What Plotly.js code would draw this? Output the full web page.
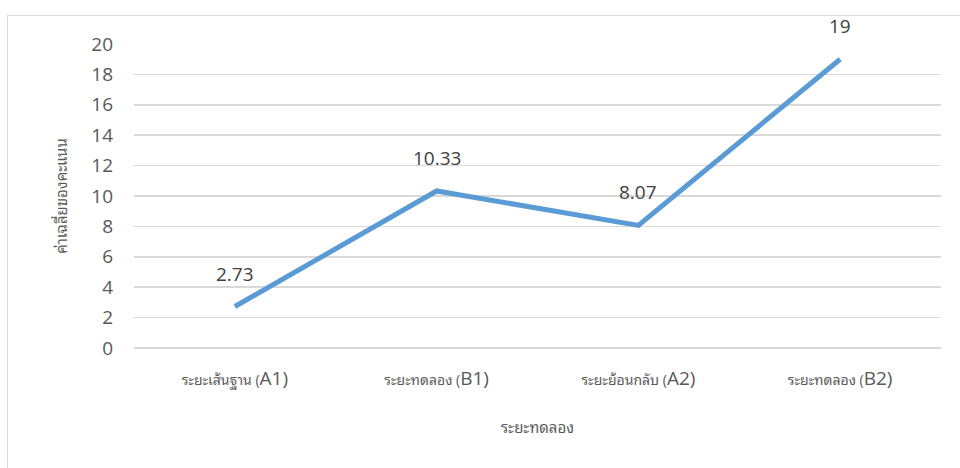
<!DOCTYPE html>
<html><head><meta charset="utf-8">
<script src="https://cdn.plot.ly/plotly-3.0.1.min.js"></script>
<style>
html,body{margin:0;padding:0;background:#fff;}
#wrap{position:relative;width:960px;height:468px;overflow:hidden;}
#chart{width:960px;height:468px;}
#frame{position:absolute;left:7px;top:15px;width:980px;height:500px;border:1.5px solid #d9d9d9;pointer-events:none;}
</style></head>
<body><div id="wrap"><div id="chart"></div><div id="frame"></div></div>
<script>
const categoryThai = ["ระยะเส้นฐาน", "ระยะทดลอง", "ระยะย้อนกลับ", "ระยะทดลอง"];
const categoryCode = ["A1", "B1", "A2", "B2"];
const categories = categoryThai.map((t, i) => t + " (" + categoryCode[i] + ")");
const values = [2.73, 10.33, 8.07, 19];
const labels = ["2.73", "10.33", "8.07", "19"];
const yTicks = [0, 2, 4, 6, 8, 10, 12, 14, 16, 18, 20];
const fontFam = "'Open Sans', 'Noto Sans', 'Noto Sans Thai Looped', 'Noto Sans Thai', sans-serif";

const tickText = categoryThai.map((t, i) => t + ' (<span style="font-size:19px">' + categoryCode[i] + ')</span>');

Plotly.newPlot('chart', [{
  type: 'scatter', mode: 'lines',
  x: categories, y: values,
  line: {color: '#5B9BD5', width: 5},
  cliponaxis: false, hoverinfo: 'none'
}], {
  width: 960, height: 468,
  margin: {l: 134, r: 19, t: 44, b: 120},
  paper_bgcolor: 'rgba(0,0,0,0)', plot_bgcolor: '#fff',
  showlegend: false,
  font: {family: fontFam, color: '#595959'},
  annotations: categories.map((c, i) => ({
    x: c, y: values[i], xref: 'x', yref: 'y', text: labels[i],
    showarrow: false, yshift: 33, font: {family: fontFam, size: 19, color: '#404040'}
  })),
  xaxis: {
    type: 'category', range: [-0.5, 3.5],
    categoryarray: categories, tickvals: categories, ticktext: tickText,
    showgrid: false, zeroline: false, showline: false, ticks: '',
    ticklabelstandoff: 22,
    tickfont: {size: 14, color: '#595959'},
    title: {text: 'ระยะทดลอง', font: {size: 15, color: '#595959'}, standoff: 32}
  },
  yaxis: {
    range: [0, 20], tickvals: yTicks, ticktext: yTicks.map(String),
    showgrid: true, gridcolor: '#d9d9d9', gridwidth: 1.5,
    zeroline: true, zerolinecolor: '#d9d9d9', zerolinewidth: 1.5,
    showline: false, ticks: '',
    ticklabelstandoff: 20,
    tickfont: {size: 19, color: '#595959'},
    title: {text: 'ค่าเฉลี่ยของคะแนน', font: {size: 15, color: '#595959'}, standoff: 20}
  }
}, {staticPlot: true});
</script></body></html>
